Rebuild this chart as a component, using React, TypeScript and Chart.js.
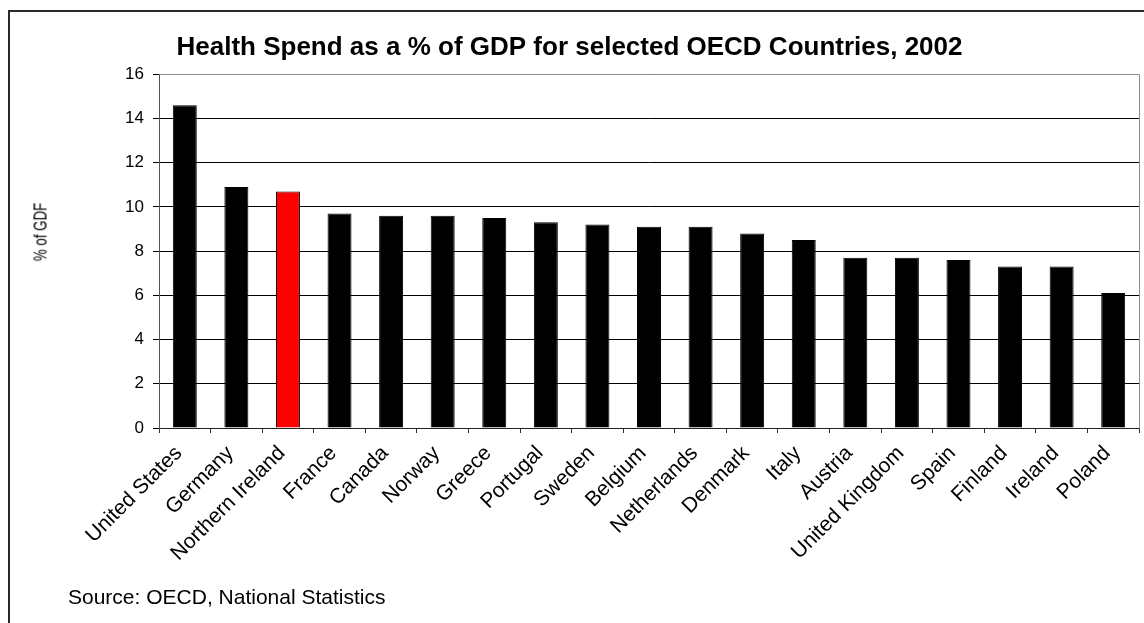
import React, { useEffect, useRef } from "react";
import { Chart, registerables } from "chart.js";

Chart.register(...registerables);

const countries = [
  "United States",
  "Germany",
  "Northern Ireland",
  "France",
  "Canada",
  "Norway",
  "Greece",
  "Portugal",
  "Sweden",
  "Belgium",
  "Netherlands",
  "Denmark",
  "Italy",
  "Austria",
  "United Kingdom",
  "Spain",
  "Finland",
  "Ireland",
  "Poland",
];

const healthSpend = [14.6, 10.9, 10.7, 9.7, 9.6, 9.6, 9.5, 9.3, 9.2, 9.1, 9.1, 8.8, 8.5, 7.7, 7.7, 7.6, 7.3, 7.3, 6.1];

const yMin = 0;
const yMax = 16;
const yStep = 2;

const highlighted = "Northern Ireland";
const chartTitle = "Health Spend as a % of GDP for selected OECD Countries, 2002";
const yTitle = "% of GDF";
const sourceNote = "Source: OECD, National Statistics";

const FONT = "'Liberation Sans', Arial, Helvetica, sans-serif";

export default function App() {
  const ref = useRef<HTMLCanvasElement>(null);

  useEffect(() => {
    const plotBorder = {
      id: "plotBorder",
      afterDatasetsDraw(chart: any) {
        const { ctx, chartArea } = chart;
        const a = (p: number) => Math.round(p - 0.5) + 0.5;
        ctx.save();
        ctx.strokeStyle = "#8c8c8c";
        ctx.lineWidth = 1;
        ctx.beginPath();
        ctx.moveTo(a(chartArea.left), a(chartArea.top));
        ctx.lineTo(a(chartArea.right), a(chartArea.top));
        ctx.lineTo(a(chartArea.right), a(chartArea.bottom));
        ctx.stroke();
        ctx.restore();
      },
    };

    const chart = new Chart(ref.current as HTMLCanvasElement, {
      type: "bar",
      data: {
        labels: countries,
        datasets: [
          {
            data: healthSpend,
            backgroundColor: countries.map((c) => (c === highlighted ? "#ff0000" : "#000000")),
            borderColor: "#000000",
            borderWidth: 1,
            barPercentage: 0.465,
            categoryPercentage: 1,
          },
        ],
      },
      options: {
        responsive: false,
        animation: false,
        devicePixelRatio: 1,
        layout: { padding: { left: 0, right: 5, top: 0, bottom: 0 } },
        plugins: {
          legend: { display: false },
          tooltip: { enabled: false },
          title: {
            display: true,
            text: chartTitle,
            color: "#000000",
            font: { family: FONT, size: 26, weight: "bold", lineHeight: 1.2 },
            padding: { top: 32, bottom: 11 },
          },
        },
        scales: {
          x: {
            grid: {
              offset: true,
              drawOnChartArea: false,
              drawTicks: true,
              tickLength: 5,
              color: "#333333",
            },
            border: { color: "#222222" },
            ticks: {
              color: "#000000",
              font: { family: FONT, size: 21 },
              minRotation: 45,
              maxRotation: 45,
              autoSkip: false,
              padding: 8,
              labelOffset: -6,
            },
            afterFit: (s: any) => {
              s.height = 195;
            },
          },
          y: {
            min: yMin,
            max: yMax,
            ticks: {
              stepSize: yStep,
              color: "#000000",
              font: { family: FONT, size: 17 },
              padding: 9,
            },
            grid: { color: "#000000", tickLength: 6 },
            border: { color: "#555555" },
            afterFit: (s: any) => {
              s.width = 159;
            },
          },
        },
      },
      plugins: [plotBorder],
    } as any);

    return () => chart.destroy();
  }, []);

  return (
    <div style={{ position: "absolute", left: 0, top: 0, width: 1144, height: 623, overflow: "hidden", background: "#fff" }}>
      <div
        style={{
          position: "absolute",
          left: 8,
          top: 10,
          width: 1200,
          height: 700,
          borderLeft: "2px solid #2a2a2a",
          borderTop: "2px solid #2a2a2a",
        }}
      />
      <canvas
        ref={ref}
        width={1144}
        height={623}
        style={{ position: "absolute", left: 0, top: 0, width: 1144, height: 623 }}
      />
      <div
        style={{
          position: "absolute",
          left: 40,
          top: 232,
          transform: "translate(-50%, -50%) rotate(-90deg) scaleX(0.7)",
          whiteSpace: "nowrap",
          fontFamily: FONT,
          fontSize: 19,
          lineHeight: "19px",
          color: "#000",
        }}
      >
        {yTitle}
      </div>
      <div
        style={{
          position: "absolute",
          left: 68,
          top: 586,
          whiteSpace: "nowrap",
          fontFamily: FONT,
          fontSize: 21,
          lineHeight: "21px",
          color: "#000",
        }}
      >
        {sourceNote}
      </div>
    </div>
  );
}
